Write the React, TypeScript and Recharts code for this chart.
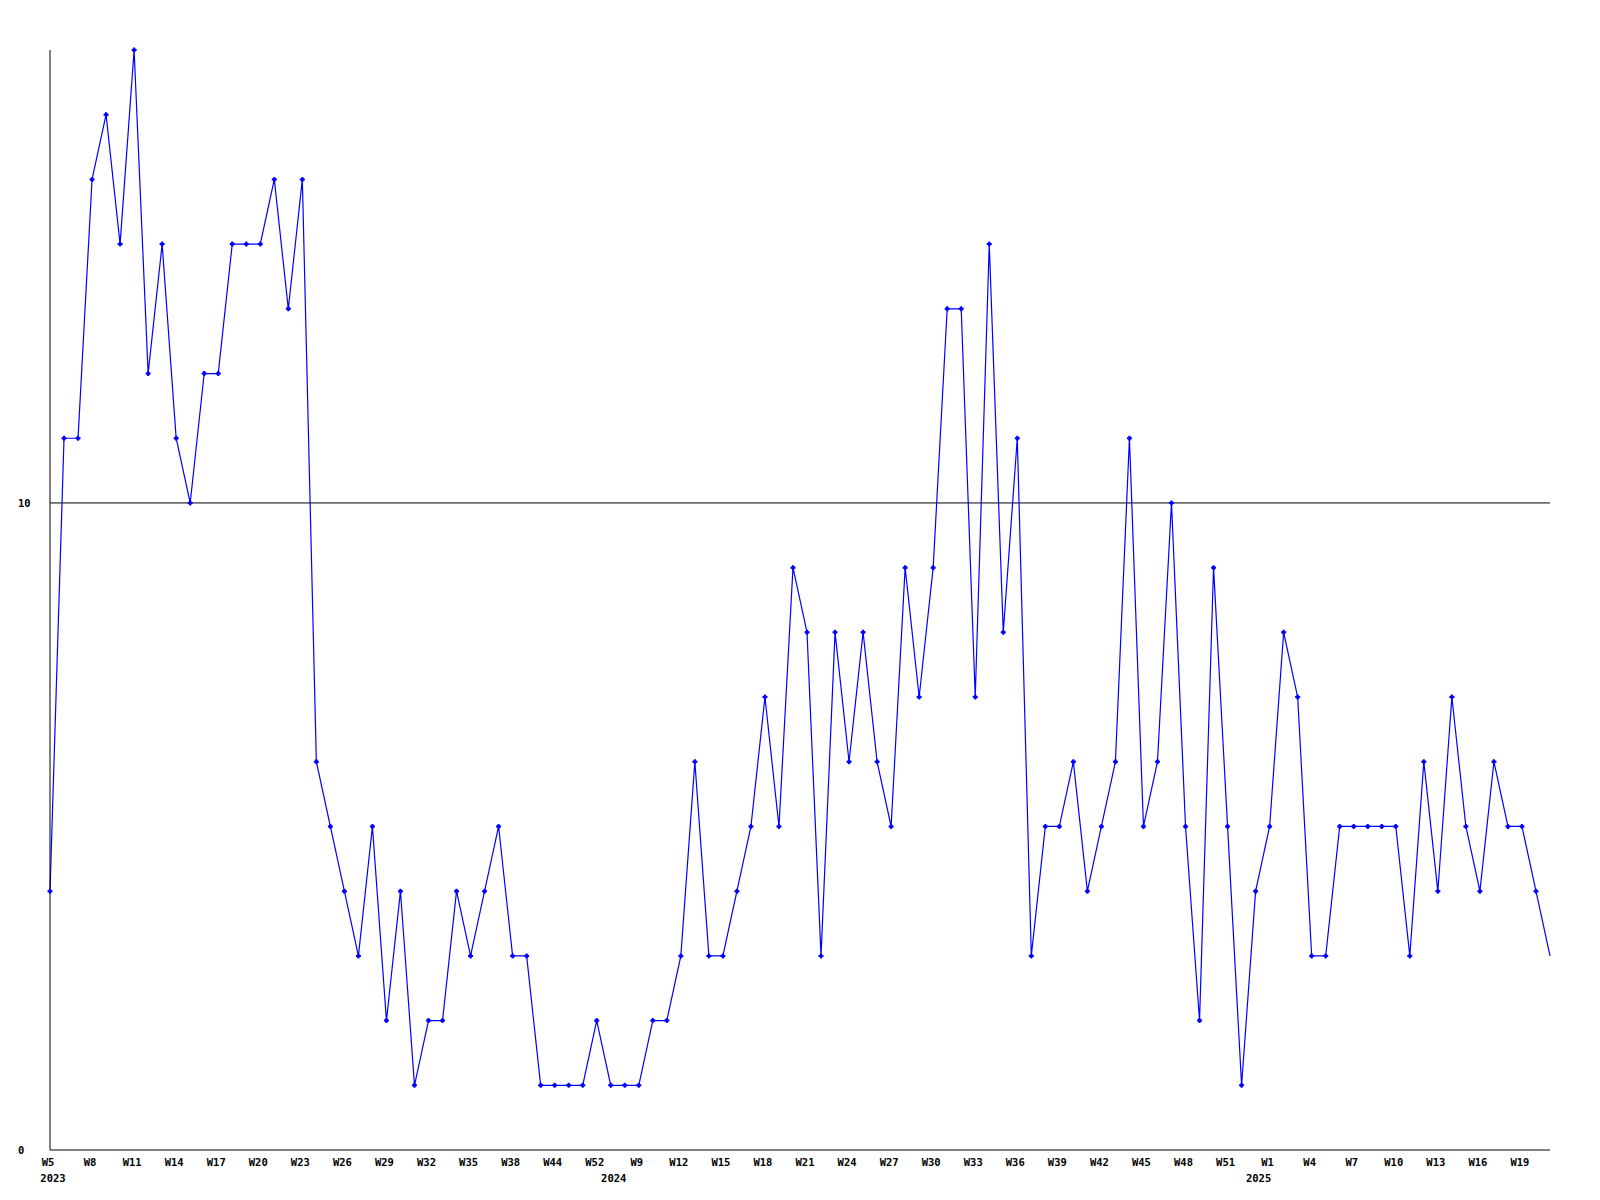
import { LineChart, Line, XAxis, YAxis, ReferenceLine } from "recharts";

// one label per weekly point (only every third one is drawn on the axis)
const weeks = [
    "W5", "W6", "W7", "W8", "W9", "W10", "W11", "W12", "W13", "W14",
    "W15", "W16", "W17", "W18", "W19", "W20", "W21", "W22", "W23", "W24",
    "W25", "W26", "W27", "W28", "W29", "W30", "W31", "W32", "W33", "W34",
    "W35", "W36", "W37", "W38", "W40", "W42", "W44", "W46", "W49", "W52",
    "W2", "W5", "W9", "W10", "W11", "W12", "W13", "W14", "W15", "W16",
    "W17", "W18", "W19", "W20", "W21", "W22", "W23", "W24", "W25", "W26",
    "W27", "W28", "W29", "W30", "W31", "W32", "W33", "W34", "W35", "W36",
    "W37", "W38", "W39", "W40", "W41", "W42", "W43", "W44", "W45", "W46",
    "W47", "W48", "W49", "W50", "W51", "W52", "W53", "W1", "W2", "W3",
    "W4", "W5", "W6", "W7", "W8", "W9", "W10", "W11", "W12", "W13",
    "W14", "W15", "W16", "W17", "W18", "W19", "W20", "W21",
];

const counts = [
    4, 11, 11, 15, 16, 14, 17, 12, 14, 11,
    10, 12, 12, 14, 14, 14, 15, 13, 15, 6,
    5, 4, 3, 5, 2, 4, 1, 2, 2, 4,
    3, 4, 5, 3, 3, 1, 1, 1, 1, 2,
    1, 1, 1, 2, 2, 3, 6, 3, 3, 4,
    5, 7, 5, 9, 8, 3, 8, 6, 8, 6,
    5, 9, 7, 9, 13, 13, 7, 14, 8, 11,
    3, 5, 5, 6, 4, 5, 6, 11, 5, 6,
    10, 5, 2, 9, 5, 1, 4, 5, 8, 7,
    3, 3, 5, 5, 5, 5, 5, 3, 6, 4,
    7, 5, 4, 6, 5, 5, 4, 3,
];

// point index where each year label sits
const yearAt = [0, 40, 86];
const years = ["2023", "2024", "2025"];

const yTicks = [0, 10];

const data = counts.map((value, i) => ({ i, week: weeks[i], value }));
const weekTicks = data.filter((d) => d.i % 3 === 0).map((d) => d.i);

const FONT = "'DejaVu Sans Mono', 'Liberation Mono', monospace";

function WeekTick(props: any) {
    const { x, y, payload } = props;
    return (
        <text x={x - 2} y={y} dy={8} textAnchor="middle" fontFamily={FONT}
            fontSize={10.5} fontWeight="bold" fill="#000">
            {weeks[payload.value]}
        </text>
    );
}

function YearTick(props: any) {
    const { x, y, payload } = props;
    const k = yearAt.indexOf(payload.value);
    return (
        <text x={x + 3} y={y} dy={0} textAnchor="middle" fontFamily={FONT}
            fontSize={10.5} fontWeight="bold" fill="#000">
            {years[k]}
        </text>
    );
}

function ValueTick(props: any) {
    const { y, payload } = props;
    return (
        <text x={18} y={y} dy={4} textAnchor="start" fontFamily={FONT}
            fontSize={10.5} fontWeight="bold" fill="#000">
            {payload.value}
        </text>
    );
}

function Marker(props: any) {
    const { cx, cy, index } = props;
    if (index === counts.length - 1) return <g key={index} />;
    return (
        <g key={index}>
            <path d={`M${cx - 2.5},${cy}h5M${cx},${cy - 2.5}v5`}
                stroke="#0000ff" strokeWidth={2} />
            <rect x={cx - 1.5} y={cy - 1.5} width={3} height={3} fill="#0000ff" />
        </g>
    );
}

export default function App() {
    return (
        <div style={{ position: "absolute", left: 0, top: 0, background: "#fff" }}>
            <LineChart width={1600} height={1200} data={data}
                margin={{ top: 50, right: 50, bottom: 0, left: 0 }}>
                <XAxis xAxisId="w" dataKey="i" type="number" domain={[0, counts.length - 1]}
                    ticks={weekTicks} interval={0} tick={<WeekTick />}
                    tickLine={false} axisLine={{ stroke: "#000" }} height={24} />
                <XAxis xAxisId="y" dataKey="i" type="number" domain={[0, counts.length - 1]}
                    ticks={yearAt} interval={0} tick={<YearTick />}
                    tickLine={false} axisLine={false} height={26} />
                <YAxis domain={[0, 17]} ticks={yTicks} width={50} tick={<ValueTick />}
                    tickLine={false} axisLine={{ stroke: "#000" }} interval={0} />
                <ReferenceLine xAxisId="w" y={10} stroke="#000" strokeWidth={1} />
                <Line xAxisId="w" type="linear" dataKey="value" stroke="#0000ff"
                    strokeWidth={1.2} dot={<Marker />} activeDot={false}
                    isAnimationActive={false} />
            </LineChart>
        </div>
    );
}
